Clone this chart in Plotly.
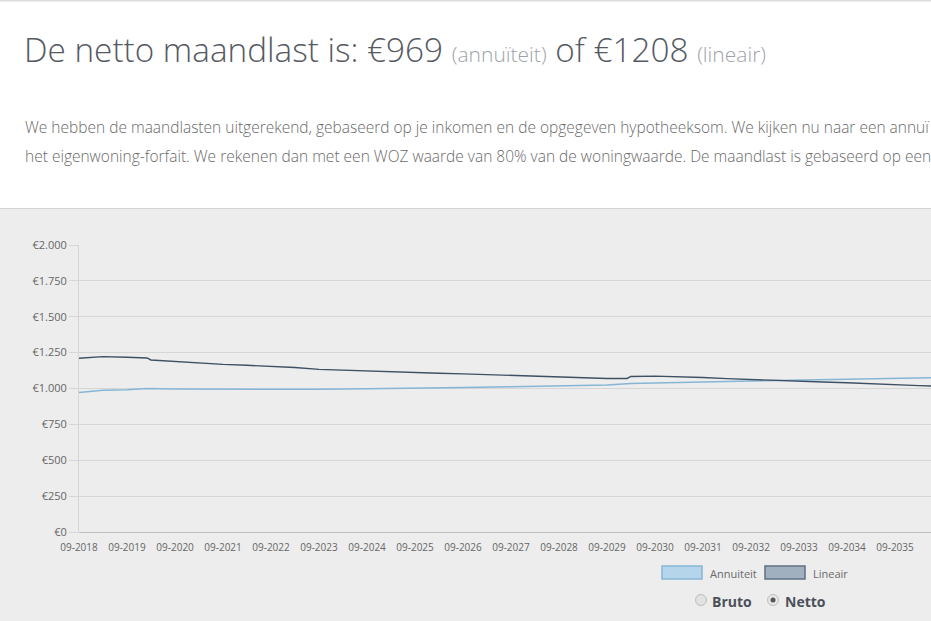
import plotly.graph_objects as go

# ---- data ----
lineair_dates = ["2018-09-01", "2019-03-01", "2019-09-01", "2020-02-01", "2020-03-01", "2020-09-01",
                 "2021-03-01", "2021-09-01", "2022-03-01", "2022-09-01", "2023-03-01", "2023-09-01",
                 "2024-03-01", "2024-09-01", "2025-03-01", "2025-09-01", "2026-03-01", "2026-09-01",
                 "2027-03-01", "2027-09-01", "2028-03-01", "2028-09-01", "2029-03-01", "2029-09-01",
                 "2030-02-01", "2030-03-01", "2030-09-01", "2031-03-01", "2031-09-01", "2032-03-01",
                 "2032-09-01", "2033-03-01", "2033-09-01", "2034-03-01", "2034-09-01", "2035-03-01",
                 "2035-09-01", "2036-03-01", "2036-09-01"]
lineair_values = [1211, 1222, 1218, 1213, 1199, 1188,
                  1175, 1168, 1162, 1156, 1146, 1133,
                  1127, 1122, 1117, 1111, 1106, 1102,
                  1097, 1092, 1086, 1080, 1072, 1070,
                  1070, 1084, 1086, 1084, 1077, 1069,
                  1062, 1055, 1050, 1045, 1040, 1032,
                  1025, 1020, 1015]

annuiteit_dates = ["2018-09-01", "2019-03-01", "2019-09-01", "2020-02-01", "2020-09-01", "2021-09-01",
                   "2022-09-01", "2023-09-01", "2024-09-01", "2025-09-01", "2026-09-01", "2027-09-01",
                   "2028-09-01", "2029-09-01", "2030-03-01", "2030-09-01", "2031-09-01", "2032-09-01",
                   "2033-09-01", "2034-09-01", "2035-09-01", "2036-09-01"]
annuiteit_values = [972, 987, 992, 1000, 996, 995,
                    995, 995, 999, 1001, 1007, 1013,
                    1018, 1025, 1035, 1040, 1046, 1052,
                    1058, 1065, 1071, 1077]

x_tick_years = list(range(2018, 2036))
x_tick_vals = [f"{y}-09-01" for y in x_tick_years]
x_tick_text = [f"09-{y}" for y in x_tick_years]
y_tick_vals = [0, 250, 500, 750, 1000, 1250, 1500, 1750, 2000]
y_tick_text = ["€0", "€250", "€500", "€750", "€1.000", "€1.250", "€1.500", "€1.750", "€2.000"]

title_text = ("De netto maandlast is: €969 <span style='font-size:21px;color:#9ea3ab'>(annuïteit)</span>"
              " of €1208 <span style='font-size:21px;color:#9ea3ab'>(lineair)</span>")
para1 = ("We hebben de maandlasten uitgerekend, gebaseerd op je inkomen en de opgegeven hypotheeksom. "
         "We kijken nu naar een annuï")
para2 = ("het eigenwoning-forfait. We rekenen dan met een WOZ waarde van 80% van de woningwaarde. "
         "De maandlast is gebaseerd op een")

# ---- layout geometry (pixels) ----
W, H = 931, 621
L, R, T, B = 79, 0, 245, 89
PW = W - L - R
PH = H - T - B


def px(x):
    return (x - L) / PW


def py(y):
    return (H - B - y) / PH


FONT = "Open Sans"
BG = "#ededed"

fig = go.Figure()
fig.add_trace(go.Scatter(x=annuiteit_dates, y=annuiteit_values, mode="lines",
                         line=dict(color="#86b6d6", width=1.5), name="Annuiteit", hoverinfo="skip"))
fig.add_trace(go.Scatter(x=lineair_dates, y=lineair_values, mode="lines",
                         line=dict(color="#3e5064", width=1.4), name="Lineair", hoverinfo="skip"))

shapes = [
    dict(type="rect", xref="paper", yref="paper", x0=px(0), x1=px(W), y0=py(208), y1=py(0),
         fillcolor="#ffffff", line=dict(width=0), layer="below"),
    dict(type="line", xref="paper", yref="paper", x0=px(0), x1=px(W), y0=py(208.5), y1=py(208.5),
         line=dict(color="#d2d2d2", width=1)),
    dict(type="line", xref="paper", yref="paper", x0=px(0), x1=px(W), y0=py(0.5), y1=py(0.5),
         line=dict(color="#dcdcdc", width=2)),
    # legend boxes
    dict(type="rect", xref="paper", yref="paper", x0=px(662), x1=px(702), y0=py(579), y1=py(566),
         fillcolor="#b5d5ea", line=dict(color="#88b7d7", width=1.5)),
    dict(type="rect", xref="paper", yref="paper", x0=px(765), x1=px(805), y0=py(579), y1=py(566),
         fillcolor="#a1b0bf", line=dict(color="#5f7083", width=1.5)),
    # radio buttons
    dict(type="circle", xref="paper", yref="paper", x0=px(695.5), x1=px(706.5), y0=py(605.5), y1=py(594.5),
         fillcolor="#e2e2e2", line=dict(color="#bdbdbd", width=1)),
    dict(type="circle", xref="paper", yref="paper", x0=px(767.5), x1=px(778.5), y0=py(605.5), y1=py(594.5),
         fillcolor="#e6e6e6", line=dict(color="#bdbdbd", width=1)),
    dict(type="circle", xref="paper", yref="paper", x0=px(770.5), x1=px(775.5), y0=py(602.5), y1=py(597.5),
         fillcolor="#555555", line=dict(width=0)),
]

annotations = [
    dict(xref="paper", yref="paper", x=px(22), y=py(49), xanchor="left", yanchor="middle",
         text=title_text, showarrow=False, font=dict(family=FONT, size=33.3, color="#555a63", weight=300)),
    dict(xref="paper", yref="paper", x=px(23), y=py(127), xanchor="left", yanchor="middle",
         text=para1, showarrow=False, font=dict(family=FONT, size=15.5, color="#6a6a6a", weight=300)),
    dict(xref="paper", yref="paper", x=px(23), y=py(156), xanchor="left", yanchor="middle",
         text=para2, showarrow=False, font=dict(family=FONT, size=15.5, color="#6a6a6a", weight=300)),
    dict(xref="paper", yref="paper", x=px(708), y=py(573), xanchor="left", yanchor="middle",
         text="Annuiteit", showarrow=False, font=dict(family=FONT, size=11, color="#6a6a6a")),
    dict(xref="paper", yref="paper", x=px(811), y=py(573), xanchor="left", yanchor="middle",
         text="Lineair", showarrow=False, font=dict(family=FONT, size=11, color="#6a6a6a")),
    dict(xref="paper", yref="paper", x=px(710), y=py(601), xanchor="left", yanchor="middle",
         text="<b>Bruto</b>", showarrow=False, font=dict(family=FONT, size=14, color="#4b505a")),
    dict(xref="paper", yref="paper", x=px(783), y=py(601), xanchor="left", yanchor="middle",
         text="<b>Netto</b>", showarrow=False, font=dict(family=FONT, size=14, color="#4b505a")),
]

fig.update_layout(
    width=W, height=H,
    margin=dict(l=L, r=R, t=T, b=B, autoexpand=False),
    paper_bgcolor=BG, plot_bgcolor=BG,
    showlegend=False,
    shapes=shapes, annotations=annotations,
    font=dict(family=FONT, color="#6a6a6a"),
    xaxis=dict(type="date", range=["2018-09-01", "2036-06-01"],
               tickvals=x_tick_vals, ticktext=x_tick_text, tickangle=0,
               tickfont=dict(size=10, color="#666666"),
               showgrid=False, zeroline=False, showline=False,
               ticks="outside", ticklen=6, tickcolor="rgba(0,0,0,0)"),
    yaxis=dict(range=[0, 2000], tickvals=y_tick_vals, ticktext=y_tick_text,
               tickfont=dict(size=11, color="#666666"),
               showgrid=True, gridcolor="#d6d6d6", gridwidth=1,
               zeroline=True, zerolinecolor="#bdbdbd", zerolinewidth=1,
               showline=True, linecolor="#d6d6d6", linewidth=1,
               ticks="outside", ticklen=9, tickcolor="#d6d6d6"),
)

fig.write_html("out.html", config={"displayModeBar": False})
